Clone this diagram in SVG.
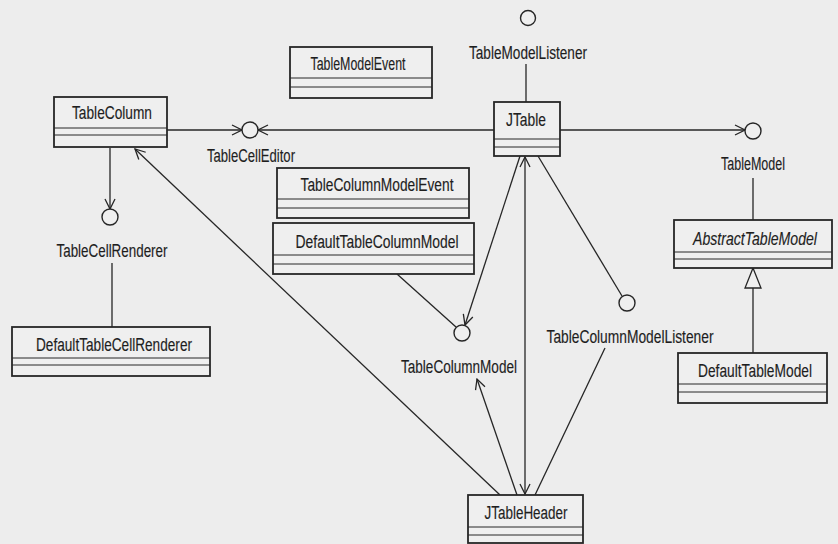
<svg xmlns="http://www.w3.org/2000/svg" width="838" height="544" viewBox="0 0 838 544">
  <defs>
    <style>
      .box { fill: #efefef; stroke: #262626; stroke-width: 1.8; }
      .sep { stroke: #262626; stroke-width: 1; fill: none; }
      .lolly { fill: #efefef; stroke: #262626; stroke-width: 1.4; }
      .conn { stroke: #262626; stroke-width: 1.3; fill: none; }
      .lbl { font-family: "Liberation Sans", Arial, sans-serif; font-size: 17.5px; fill: #1e1e1e; stroke: #1e1e1e; stroke-width: 0.15; }
      .it { font-style: italic; }
    </style>
    <marker id="open" viewBox="0 0 12 12" refX="11" refY="6" markerWidth="12" markerHeight="12" markerUnits="userSpaceOnUse" orient="auto-start-reverse">
      <path d="M1,1 L11,6 L1,11" fill="none" stroke="#262626" stroke-width="1.3"/>
    </marker>
  </defs>

  <rect width="838" height="544" fill="#ededed"/>

  <!-- connectors -->
  <g id="connectors">
    <line class="conn" x1="167" y1="130" x2="242" y2="130" marker-end="url(#open)"/>
    <line class="conn" x1="494" y1="130" x2="258" y2="130" marker-end="url(#open)"/>
    <line class="conn" x1="560" y1="130" x2="745" y2="130" marker-end="url(#open)"/>
    <line class="conn" x1="526" y1="64" x2="526" y2="102"/>
    <line class="conn" x1="753" y1="178" x2="753" y2="220"/>
    <line class="conn" x1="753" y1="288" x2="753" y2="353"/>
    <polygon points="753,268 745,288 761,288" fill="#efefef" stroke="#262626" stroke-width="1.3"/>
    <line class="conn" x1="110" y1="148" x2="110" y2="209" marker-end="url(#open)"/>
    <line class="conn" x1="112" y1="263" x2="112" y2="327"/>
    <line class="conn" x1="397" y1="274" x2="456" y2="327"/>
    <line class="conn" x1="520" y1="156" x2="465" y2="325" marker-end="url(#open)"/>
    <line class="conn" x1="538" y1="156" x2="622" y2="296"/>
    <line class="conn" x1="525" y1="157" x2="525" y2="494" marker-start="url(#open)" marker-end="url(#open)"/>
    <line class="conn" x1="500" y1="495" x2="135" y2="149" marker-end="url(#open)"/>
    <line class="conn" x1="517" y1="495" x2="477" y2="379" marker-end="url(#open)"/>
    <line class="conn" x1="535" y1="495" x2="605" y2="348"/>
  </g>

  <!-- interfaces -->
  <g id="TableCellEditor">
    <circle class="lolly" cx="250" cy="130" r="8"/>
    <text class="lbl" x="251" y="162" text-anchor="middle" textLength="88" lengthAdjust="spacingAndGlyphs">TableCellEditor</text>
  </g>
  <g id="TableCellRenderer">
    <circle class="lolly" cx="110" cy="217" r="8"/>
    <text class="lbl" x="112" y="257" text-anchor="middle" textLength="111" lengthAdjust="spacingAndGlyphs">TableCellRenderer</text>
  </g>
  <g id="TableModelListener">
    <circle class="lolly" cx="528" cy="18" r="7.5"/>
    <text class="lbl" x="528" y="59" text-anchor="middle" textLength="118" lengthAdjust="spacingAndGlyphs">TableModelListener</text>
  </g>
  <g id="TableModel">
    <circle class="lolly" cx="753" cy="131" r="8"/>
    <text class="lbl" x="753" y="170" text-anchor="middle" textLength="64" lengthAdjust="spacingAndGlyphs">TableModel</text>
  </g>
  <g id="TableColumnModel">
    <circle class="lolly" cx="462" cy="333" r="8"/>
    <text class="lbl" x="459" y="373" text-anchor="middle" textLength="116" lengthAdjust="spacingAndGlyphs">TableColumnModel</text>
  </g>
  <g id="TableColumnModelListener">
    <circle class="lolly" cx="627" cy="303" r="8"/>
    <text class="lbl" x="630" y="343" text-anchor="middle" textLength="167" lengthAdjust="spacingAndGlyphs">TableColumnModelListener</text>
  </g>

  <!-- classes -->
  <g id="TableColumn">
    <rect class="box" x="54" y="97" width="113" height="50"/>
    <line class="sep" x1="54" y1="128" x2="167" y2="128"/>
    <line class="sep" x1="54" y1="135" x2="167" y2="135"/>
    <text class="lbl" x="112" y="119" text-anchor="middle" textLength="80" lengthAdjust="spacingAndGlyphs">TableColumn</text>
  </g>
  <g id="TableModelEvent">
    <rect class="box" x="290" y="47" width="142" height="51"/>
    <line class="sep" x1="290" y1="78" x2="432" y2="78"/>
    <line class="sep" x1="290" y1="87" x2="432" y2="87"/>
    <text class="lbl" x="358" y="70" text-anchor="middle" textLength="95" lengthAdjust="spacingAndGlyphs">TableModelEvent</text>
  </g>
  <g id="JTable">
    <rect class="box" x="494" y="102" width="66" height="54"/>
    <line class="sep" x1="494" y1="139" x2="560" y2="139"/>
    <line class="sep" x1="494" y1="147" x2="560" y2="147"/>
    <text class="lbl" x="526" y="126" text-anchor="middle" textLength="40" lengthAdjust="spacingAndGlyphs">JTable</text>
  </g>
  <g id="TableColumnModelEvent">
    <rect class="box" x="277" y="168" width="192" height="50"/>
    <line class="sep" x1="277" y1="199" x2="469" y2="199"/>
    <line class="sep" x1="277" y1="208" x2="469" y2="208"/>
    <text class="lbl" x="377" y="191" text-anchor="middle" textLength="153" lengthAdjust="spacingAndGlyphs">TableColumnModelEvent</text>
  </g>
  <g id="DefaultTableColumnModel">
    <rect class="box" x="273" y="223" width="201" height="51"/>
    <line class="sep" x1="273" y1="255" x2="474" y2="255"/>
    <line class="sep" x1="273" y1="264" x2="474" y2="264"/>
    <text class="lbl" x="377" y="248" text-anchor="middle" textLength="163" lengthAdjust="spacingAndGlyphs">DefaultTableColumnModel</text>
  </g>
  <g id="AbstractTableModel">
    <rect class="box" x="674" y="220" width="158" height="48"/>
    <line class="sep" x1="674" y1="252" x2="832" y2="252"/>
    <line class="sep" x1="674" y1="259" x2="832" y2="259"/>
    <text class="lbl it" x="755" y="245" text-anchor="middle" textLength="124" lengthAdjust="spacingAndGlyphs">AbstractTableModel</text>
  </g>
  <g id="DefaultTableModel">
    <rect class="box" x="678" y="353" width="149" height="50"/>
    <line class="sep" x1="678" y1="384" x2="827" y2="384"/>
    <line class="sep" x1="678" y1="392" x2="827" y2="392"/>
    <text class="lbl" x="755" y="377" text-anchor="middle" textLength="114" lengthAdjust="spacingAndGlyphs">DefaultTableModel</text>
  </g>
  <g id="DefaultTableCellRenderer">
    <rect class="box" x="12" y="327" width="198" height="49"/>
    <line class="sep" x1="12" y1="358" x2="210" y2="358"/>
    <line class="sep" x1="12" y1="365" x2="210" y2="365"/>
    <text class="lbl" x="114" y="351" text-anchor="middle" textLength="156" lengthAdjust="spacingAndGlyphs">DefaultTableCellRenderer</text>
  </g>
  <g id="JTableHeader">
    <rect class="box" x="468" y="495" width="115" height="48"/>
    <line class="sep" x1="468" y1="527" x2="583" y2="527"/>
    <line class="sep" x1="468" y1="535" x2="583" y2="535"/>
    <text class="lbl" x="526" y="519" text-anchor="middle" textLength="83" lengthAdjust="spacingAndGlyphs">JTableHeader</text>
  </g>
</svg>
